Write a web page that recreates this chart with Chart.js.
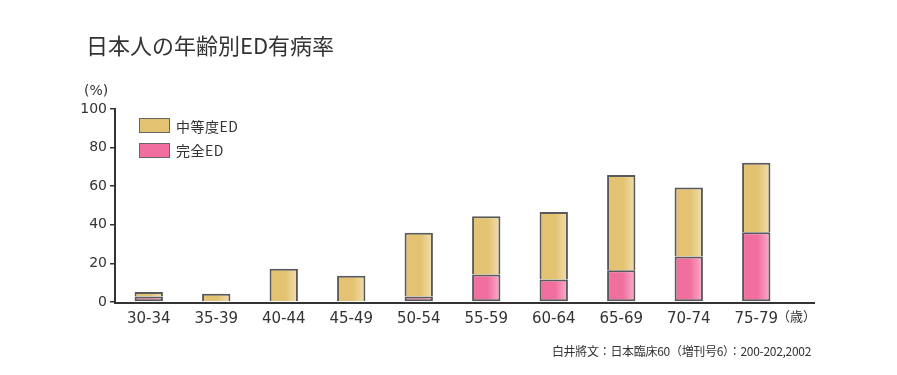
<!DOCTYPE html>
<html>
<head>
<meta charset="utf-8">
<script src="https://cdn.jsdelivr.net/npm/chart.js@4/dist/chart.umd.min.js"></script>
<style>
  body { margin: 0; background: #fff; }
  #wrap { position: relative; width: 897px; height: 375px; overflow: hidden; }
  #wrap div { position: absolute; color: #333; white-space: nowrap; }
  .jp { font-family: "Noto Sans CJK JP", sans-serif; }
  .box { width: 29px; height: 13px; border: 1px solid #666; }
</style>
</head>
<body>
<div id="wrap">
  <canvas id="myChart" width="897" height="375"></canvas>
  <div class="jp" style="left:86px; top:33px; font-size:22px; line-height:22px;">日本人の年齢別ED有病率</div>
  <div style="left:84px; top:82px; font-family:'DejaVu Sans'; font-size:14px; line-height:16px;">(%)</div>
  <div class="box" style="left:139px; top:118px; background:#e3c272;"></div>
  <div class="jp" style="left:176px; top:118px; font-size:14px; line-height:16px; letter-spacing:0.5px;">中等度ED</div>
  <div class="box" style="left:139px; top:143px; background:#f06f9f;"></div>
  <div class="jp" style="left:176px; top:142px; font-size:14px; line-height:16px; letter-spacing:0.5px;">完全ED</div>
  <div class="jp" style="left:777px; top:308px; font-size:13px; line-height:16px;">（歳）</div>
  <div class="jp" style="right:86px; top:343px; font-size:12px; line-height:16px; letter-spacing:-0.3px;">白井將文：日本臨床60（増刊号6）：200-202,2002</div>
</div>
<script>
//age groups on the x axis
const ageGroups = ['30-34', '35-39', '40-44', '45-49', '50-54', '55-59', '60-64', '65-69', '70-74', '75-79'];

//complete ED (%), bottom of each bar
const completeED = [2.8, null, null, null, 2.8, 14.2, 11.6, 16.5, 23.6, 36.2];

//moderate ED (%), stacked on top
const moderateED = [2.4, 4.3, 17.2, 13.6, 33.1, 30.2, 35, 49.3, 35.7, 36];

//y axis ticks
const yTicks = [0, 20, 40, 60, 80, 100];

const BAR_PCT = 0.42;

//horizontal shade for each bar, lighter on the right side
function shade(base, light) {
  return function(ctx) {
    const chart = ctx.chart;
    const area = chart.chartArea;
    if (!area) return base;
    const xs = chart.scales.x;
    const cx = xs.getPixelForValue(ctx.dataIndex);
    const w = (area.right - area.left) / ageGroups.length * BAR_PCT;
    const g = chart.ctx.createLinearGradient(cx - w / 2, 0, cx + w / 2, 0);
    g.addColorStop(0, base);
    g.addColorStop(0.55, base);
    g.addColorStop(1, light);
    return g;
  };
}

//x axis line, running on past the last bar
const axisLine = {
  id: 'axisLine',
  afterDatasetsDraw(chart) {
    const c = chart.ctx;
    const a = chart.chartArea;
    c.save();
    c.strokeStyle = '#333';
    c.lineWidth = 2;
    c.beginPath();
    c.moveTo(a.left - 1, a.bottom + 1);
    c.lineTo(815, a.bottom + 1);
    c.stroke();
    c.restore();
  }
};

const ctx = document.getElementById('myChart').getContext('2d');
const myChart = new Chart(ctx, {
  type: 'bar',
  data: {
    labels: ageGroups,
    datasets: [{
      label: '完全ED',
      data: completeED,
      backgroundColor: shade('#f06f9f', '#f9b0cc'),
      borderColor: '#5a5a5a',
      borderWidth: 2,
      borderSkipped: false
    }, {
      label: '中等度ED',
      data: moderateED,
      backgroundColor: shade('#e3c272', '#f1dfb0'),
      borderColor: '#5a5a5a',
      borderWidth: 2,
      borderSkipped: 'start'
    }]
  },
  options: {
    responsive: false,
    animation: false,
    layout: {
      padding: {left: 0, top: 109, right: 107, bottom: 0}
    },
    plugins: {
      legend: {display: false},
      tooltip: {enabled: false}
    },
    datasets: {
      bar: {categoryPercentage: 1, barPercentage: BAR_PCT}
    },
    scales: {
      x: {
        stacked: true,
        grid: {display: false},
        border: {display: false},
        ticks: {
          color: '#333',
          padding: 0,
          font: {family: 'DejaVu Sans', size: 15}
        },
        afterFit(scale) { scale.height = 73; }
      },
      y: {
        stacked: true,
        min: 0,
        max: 100,
        afterBuildTicks(scale) { scale.ticks = yTicks.map(v => ({value: v})); },
        grid: {
          drawOnChartArea: false,
          drawTicks: true,
          tickLength: 5,
          color: '#333',
          lineWidth: 1.5
        },
        border: {display: true, color: '#333', width: 2},
        ticks: {
          color: '#333',
          padding: 3,
          font: {family: 'DejaVu Sans', size: 14}
        },
        afterFit(scale) { scale.width = 115; }
      }
    }
  },
  plugins: [axisLine]
});
</script>
</body>
</html>
